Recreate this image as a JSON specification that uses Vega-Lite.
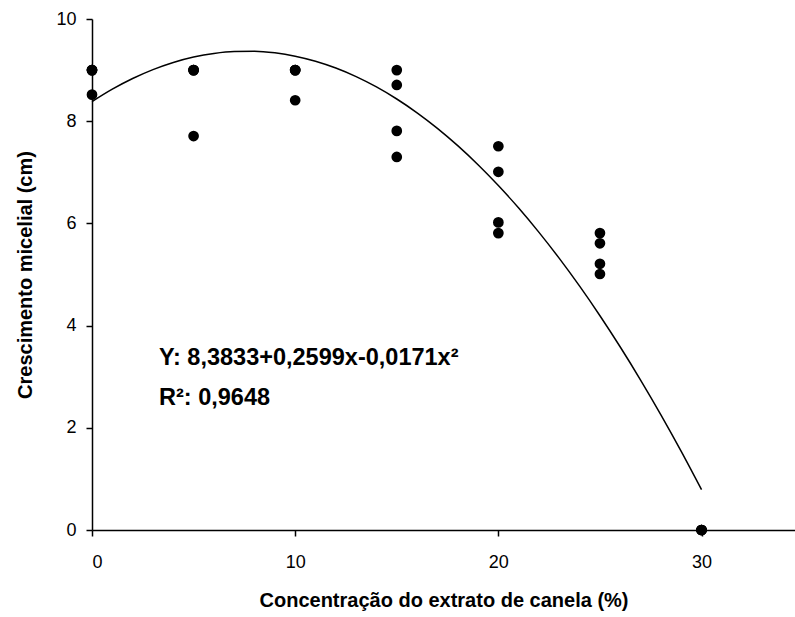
{
  "$schema": "https://vega.github.io/schema/vega-lite/v6.json",
  "width": 703,
  "height": 511,
  "autosize": {"type": "none"},
  "padding": {"left": 92, "top": 19, "right": 0, "bottom": 87},
  "background": "white",
  "config": {
    "view": {"stroke": null},
    "font": "Liberation Sans",
    "axis": {
      "domainColor": "black",
      "domainWidth": 1.5,
      "tickColor": "black",
      "tickWidth": 1.5,
      "tickSize": 6,
      "grid": false,
      "labelColor": "black",
      "labelFont": "Liberation Sans",
      "labelFontSize": 18,
      "titleColor": "black",
      "titleFont": "Liberation Sans",
      "titleFontSize": 20,
      "titleFontWeight": "bold"
    }
  },
  "datasets": {
    "obs": [
      {"conc": 0, "growth": 9.0}, {"conc": 0, "growth": 9.0}, {"conc": 0, "growth": 9.0}, {"conc": 0, "growth": 8.52},
      {"conc": 5, "growth": 9.0}, {"conc": 5, "growth": 9.0}, {"conc": 5, "growth": 9.0}, {"conc": 5, "growth": 7.71},
      {"conc": 10, "growth": 9.0}, {"conc": 10, "growth": 9.0}, {"conc": 10, "growth": 9.0}, {"conc": 10, "growth": 8.41},
      {"conc": 15, "growth": 9.0}, {"conc": 15, "growth": 8.71}, {"conc": 15, "growth": 7.81}, {"conc": 15, "growth": 7.3},
      {"conc": 20, "growth": 7.51}, {"conc": 20, "growth": 7.01}, {"conc": 20, "growth": 6.02}, {"conc": 20, "growth": 5.81},
      {"conc": 25, "growth": 5.81}, {"conc": 25, "growth": 5.61}, {"conc": 25, "growth": 5.21}, {"conc": 25, "growth": 5.01},
      {"conc": 30, "growth": 0}, {"conc": 30, "growth": 0}, {"conc": 30, "growth": 0}, {"conc": 30, "growth": 0}
    ],
    "fit": [
      {"conc": 0, "growth": 8.3833}, {"conc": 1, "growth": 8.6261}, {"conc": 2, "growth": 8.8347},
      {"conc": 3, "growth": 9.0091}, {"conc": 4, "growth": 9.1493}, {"conc": 5, "growth": 9.2553},
      {"conc": 6, "growth": 9.3271}, {"conc": 7, "growth": 9.3647}, {"conc": 8, "growth": 9.3681},
      {"conc": 9, "growth": 9.3373}, {"conc": 10, "growth": 9.2723}, {"conc": 11, "growth": 9.1731},
      {"conc": 12, "growth": 9.0397}, {"conc": 13, "growth": 8.8721}, {"conc": 14, "growth": 8.6703},
      {"conc": 15, "growth": 8.4343}, {"conc": 16, "growth": 8.1641}, {"conc": 17, "growth": 7.8597},
      {"conc": 18, "growth": 7.5211}, {"conc": 19, "growth": 7.1483}, {"conc": 20, "growth": 6.7413},
      {"conc": 21, "growth": 6.3001}, {"conc": 22, "growth": 5.8247}, {"conc": 23, "growth": 5.3151},
      {"conc": 24, "growth": 4.7713}, {"conc": 25, "growth": 4.1933}, {"conc": 26, "growth": 3.5811},
      {"conc": 27, "growth": 2.9347}, {"conc": 28, "growth": 2.2541}, {"conc": 29, "growth": 1.5393},
      {"conc": 30, "growth": 0.7903}
    ],
    "notes": [
      {"conc": 3.3, "growth": 3.37, "label": "Y: 8,3833+0,2599x-0,0171x²"},
      {"conc": 3.3, "growth": 2.58, "label": "R²: 0,9648"}
    ]
  },
  "encoding": {
    "x": {
      "field": "conc",
      "type": "quantitative",
      "scale": {"domain": [0, 34.6], "nice": false, "zero": false},
      "axis": {
        "values": [0, 10, 20, 30],
        "title": "Concentração do extrato de canela (%)",
        "labelPadding": 17,
        "titlePadding": 19
      }
    },
    "y": {
      "field": "growth",
      "type": "quantitative",
      "scale": {"domain": [0, 10], "nice": false},
      "axis": {
        "values": [0, 2, 4, 6, 8, 10],
        "title": "Crescimento micelial (cm)",
        "labelPadding": 10,
        "titlePadding": 20
      }
    }
  },
  "layer": [
    {
      "data": {"name": "fit"},
      "mark": {"type": "line", "color": "black", "strokeWidth": 1.5, "interpolate": "monotone"}
    },
    {
      "data": {"name": "obs"},
      "mark": {"type": "point", "filled": true, "color": "black", "opacity": 1, "size": 115}
    },
    {
      "data": {"name": "notes"},
      "mark": {"type": "text", "align": "left", "baseline": "middle", "font": "Liberation Sans", "fontWeight": "bold", "fontSize": 23.5, "color": "black"},
      "encoding": {"text": {"field": "label"}}
    }
  ]
}
